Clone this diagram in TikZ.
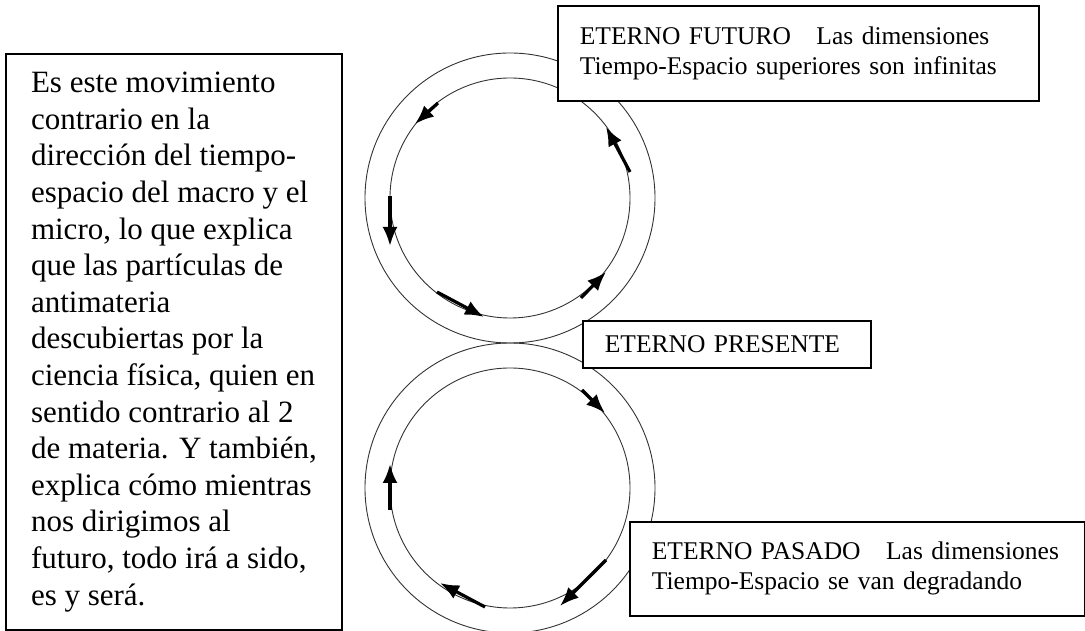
\documentclass[tikz,border=0pt]{standalone}
\usepackage{fontspec}
\setmainfont{Liberation Serif}
\usetikzlibrary{arrows.meta}

\begin{document}
\begin{tikzpicture}[
        x=1pt, y=1pt,
        caja/.style={rectangle, draw, line width=1.8pt, fill=white, anchor=north west, align=left, inner xsep=22pt, inner ysep=0pt},
        aro/.style={draw=black!80, line width=0.9pt},
        giro/.style={line width=3.2pt, -{Latex[length=19pt,width=15pt]}},
    ]
        \useasboundingbox (0,0) rectangle (1085,631);

        % Centres of the two rings
        \coordinate (ARRIBA) at (510,433);
        \coordinate (ABAJO) at (510,143);

        % Double rings
        \foreach \c in {ARRIBA,ABAJO} {
            \draw[aro] (\c) circle (145pt);
            \draw[aro] (\c) circle (120pt);
        }

        % Arrows on the upper ring
        \foreach \sx/\sy/\ex/\ey in {-72/95/-95/74, -120/2/-120/-48, -73/-94/-26/-119, 71/-100/96/-74, 120/26/96/71}
            \draw[giro] ([shift={(\sx,\sy)}]ARRIBA) -- ([shift={(\ex,\ey)}]ARRIBA);

        % Arrows on the lower ring
        \foreach \sx/\sy/\ex/\ey in {72/98/95/75, 96/-72/50/-118, -25/-119/-70/-95, -120/-22/-120/24}
            \draw[giro] ([shift={(\sx,\sy)}]ABAJO) -- ([shift={(\ex,\ey)}]ABAJO);

        % Text boxes
        \node[caja, minimum width=336pt, minimum height=576pt, font=\fontsize{31}{36.6}\selectfont] (TEXTO) at (5,578) {Es este movimiento\\
            contrario en la\\
            dirección del tiempo-\\
            espacio del macro y el\\
            micro, lo que explica\\
            que las partículas de\\
            antimateria\\
            descubiertas por la\\
            ciencia física, quien en\\
            sentido contrario al 2\\
            de materia. Y también,\\
            explica cómo mientras\\
            nos dirigimos al\\
            futuro, todo irá a sido,\\
            es y será.};
        \node[caja, text width=437pt, minimum height=95pt, font=\fontsize{25.5}{30}\selectfont] (FUTURO) at (557,626) {ETERNO FUTURO\ \ \ Las dimensiones\\Tiempo-Espacio superiores son infinitas};
        \node[caja, text width=244pt, minimum height=47pt, font=\fontsize{25.5}{30}\selectfont] (PRESENTE) at (582,311) {ETERNO PRESENTE};
        \node[caja, text width=411pt, minimum height=94pt, font=\fontsize{25.5}{30}\selectfont] (PASADO) at (629,110) {ETERNO PASADO\ \ \ Las dimensiones\\Tiempo-Espacio se van degradando};
    \end{tikzpicture}
\end{document}
